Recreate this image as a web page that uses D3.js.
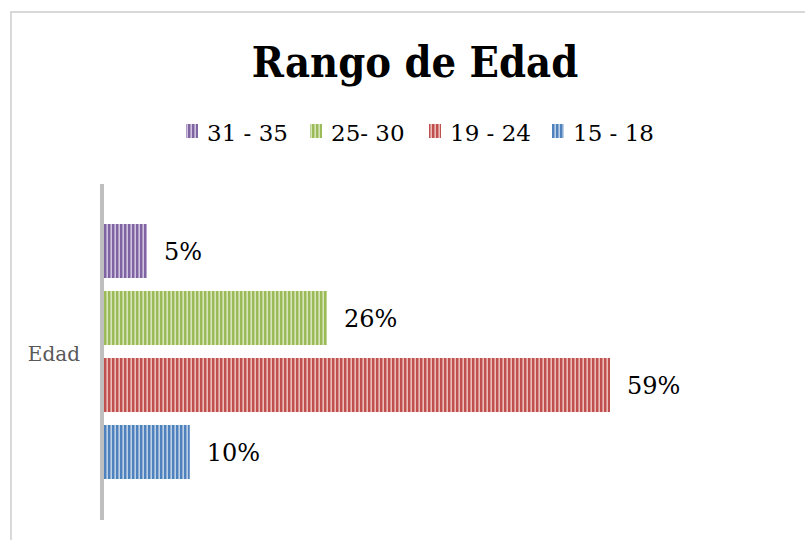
<!DOCTYPE html>
<html>
<head>
<meta charset="utf-8">
<script src="https://cdn.jsdelivr.net/npm/d3@7"></script>
<style>
  body { margin: 0; background: #fff; }
  svg { display: block; }
</style>
</head>
<body>
<div id="viz"></div>
<script>
const categories = ["31 - 35", "25- 30", "19 - 24", "15 - 18"];
const values = [5, 26, 59, 10];
const axisLabel = "Edad";
const title = "Rango de Edad";

const palette = {
  "31 - 35": { base: "#8064a2", light: "#cfc3e0" },
  "25- 30": { base: "#9bbb59", light: "#d7e6ba" },
  "19 - 24": { base: "#c0504d", light: "#ecbcba" },
  "15 - 18": { base: "#4f81bd", light: "#bcd0e8" },
};

const width = 805, height = 540;
const font = "'DejaVu Serif', 'Liberation Serif', serif";

const svg = d3.select("#viz")
  .append("svg")
  .attr("width", width)
  .attr("height", height);

// striped fills
const defs = svg.append("defs");
categories.forEach((c, i) => {
  const p = defs.append("pattern")
    .attr("id", "stripe" + i)
    .attr("patternUnits", "userSpaceOnUse")
    .attr("width", 4)
    .attr("height", 4);
  p.append("rect").attr("width", 4).attr("height", 4).attr("fill", palette[c].light);
  p.append("rect").attr("width", 2.4).attr("height", 4).attr("fill", palette[c].base);
});

// chart area border
svg.append("rect")
  .attr("x", 11).attr("y", 12)
  .attr("width", 820).attr("height", 560)
  .attr("fill", "none")
  .attr("stroke", "#d9d9d9")
  .attr("stroke-width", 2);

svg.append("text")
  .text(title)
  .attr("x", 415)
  .attr("y", 77)
  .attr("text-anchor", "middle")
  .style("font-family", "'DejaVu Serif Condensed', 'DejaVu Serif', serif")
  .style("font-stretch", "condensed")
  .style("font-weight", "bold")
  .style("font-size", "43px");

// legend
const legendX = [186, 310, 429, 552];
const legend = svg.append("g");
categories.forEach((c, i) => {
  legend.append("rect")
    .attr("x", legendX[i]).attr("y", 124)
    .attr("width", 12).attr("height", 14)
    .attr("fill", `url(#stripe${i})`);
  legend.append("text")
    .text(c)
    .attr("x", legendX[i] + 21)
    .attr("y", 141)
    .style("font-family", font)
    .style("font-size", "23px");
});

const x = d3.scaleLinear().domain([0, 59]).range([104, 610]);
const y = d3.scaleBand()
  .domain(categories)
  .range([217.5, 485.5])
  .paddingInner(13 / 67)
  .paddingOuter(6.5 / 67);

svg.selectAll(".bar")
  .data(categories)
  .join("rect")
  .attr("class", "bar")
  .attr("x", x(0))
  .attr("y", d => y(d))
  .attr("width", (d, i) => x(values[i]) - x(0))
  .attr("height", y.bandwidth())
  .attr("fill", (d, i) => `url(#stripe${i})`);

svg.selectAll(".lbl")
  .data(categories)
  .join("text")
  .attr("class", "lbl")
  .text((d, i) => values[i] + "%")
  .attr("x", (d, i) => x(values[i]) + 17)
  .attr("y", d => y(d) + y.bandwidth() / 2)
  .attr("dy", "0.37em")
  .style("font-family", font)
  .style("font-size", "24px");

// vertical axis
svg.append("line")
  .attr("x1", 102).attr("x2", 102)
  .attr("y1", 184).attr("y2", 520)
  .attr("stroke", "#bfbfbf")
  .attr("stroke-width", 4);

svg.append("text")
  .text(axisLabel)
  .attr("x", 80)
  .attr("y", 361)
  .attr("text-anchor", "end")
  .style("font-family", font)
  .style("font-size", "20px")
  .style("fill", "#595959");
</script>
</body>
</html>
